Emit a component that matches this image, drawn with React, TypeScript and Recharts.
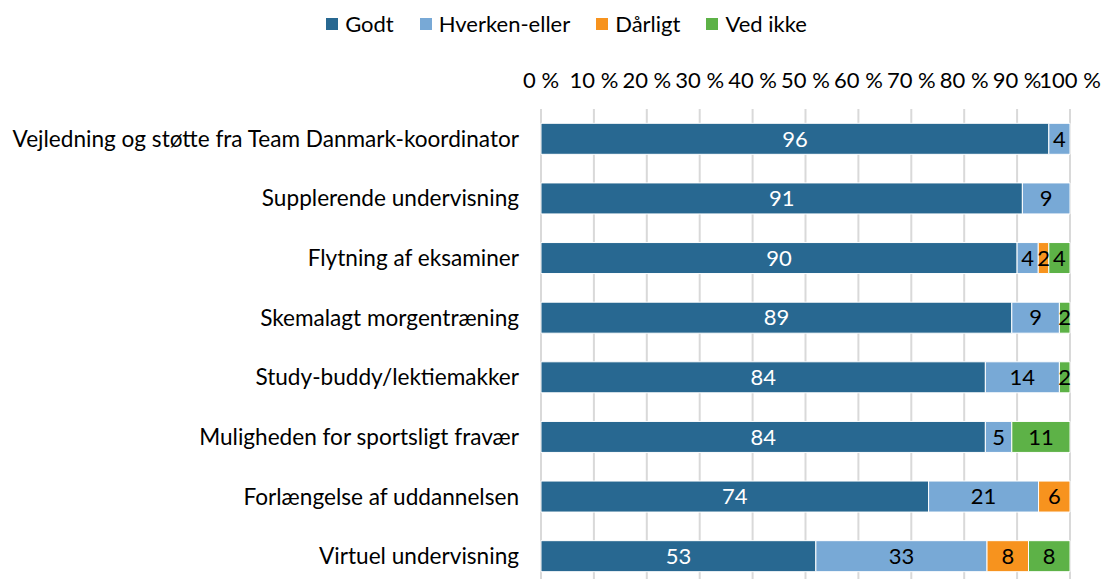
import { BarChart, Bar, XAxis, YAxis, CartesianGrid, Legend, LabelList } from 'recharts';

const categories = [
  'Vejledning og støtte fra Team Danmark-koordinator',
  'Supplerende undervisning',
  'Flytning af eksaminer',
  'Skemalagt morgentræning',
  'Study-buddy/lektiemakker',
  'Muligheden for sportsligt fravær',
  'Forlængelse af uddannelsen',
  'Virtuel undervisning',
];
const godt = [96, 91, 90, 89, 84, 84, 74, 53];
const hverken = [4, 9, 4, 9, 14, 5, 21, 33];
const daarligt = [0, 0, 2, 0, 0, 0, 6, 8];
const vedIkke = [0, 0, 4, 2, 2, 11, 0, 8];
const xTicks = [0, 0.1, 0.2, 0.3, 0.4, 0.5, 0.6, 0.7, 0.8, 0.9, 1];

const series = [
  { key: 'godt', name: 'Godt', color: '#286891', labelColor: '#ffffff' },
  { key: 'hverken', name: 'Hverken-eller', color: '#78a9d6', labelColor: '#000000' },
  { key: 'daarligt', name: 'Dårligt', color: '#f7931e', labelColor: '#000000' },
  { key: 'vedIkke', name: 'Ved ikke', color: '#5db247', labelColor: '#000000' },
];

const data = categories.map((name, i) => ({
  name,
  godt: godt[i],
  hverken: hverken[i],
  daarligt: daarligt[i],
  vedIkke: vedIkke[i],
}));

const font = 'Lato, "Open Sans", sans-serif';
const fs = 22;

const renderLegend = () => (
  <div style={{ display: 'flex', justifyContent: 'center', gap: 26, fontFamily: font, fontSize: fs, color: '#000', height: 22, lineHeight: '22px' }}>
    {series.map((s) => (
      <span key={s.key} style={{ display: 'flex', alignItems: 'center', gap: 7 }}>
        <span style={{ width: 12, height: 12, background: s.color, display: 'inline-block' }} />
        {s.name}
      </span>
    ))}
  </div>
);

export default function App() {
  return (
    <div style={{ position: 'fixed', top: 0, left: 0, width: 1101, height: 579, overflow: 'hidden', background: '#fff' }}>
      <BarChart
        width={1101}
        height={600}
        data={data}
        layout="vertical"
        stackOffset="expand"
        barCategoryGap="24%"
        margin={{ top: 28, right: 31, bottom: 14, left: 0 }}
      >
        <Legend verticalAlign="top" content={renderLegend} wrapperStyle={{ top: 13, left: 16, width: 1101, height: 22 }} />
        <CartesianGrid horizontal={false} stroke="#d9d9d9" strokeWidth={2} />
        <XAxis
          type="number"
          orientation="top"
          domain={[0, 1]}
          ticks={xTicks}
          tickFormatter={(v: number) => `${Math.round(v * 100)} %`}
          axisLine={false}
          tickLine={false}
          height={59}
          tickMargin={15}
          tick={{ fontSize: fs, fill: '#000', fontFamily: font }}
          interval={0}
        />
        <YAxis
          type="category"
          dataKey="name"
          width={541}
          axisLine={false}
          tickLine={false}
          tickMargin={16}
          tick={{ fontSize: 22.6, fill: '#000', fontFamily: font }}
          interval={0}
        />
        {series.map((s) => (
          <Bar key={s.key} dataKey={s.key} name={s.name} stackId="a" fill={s.color} stroke="#ffffff" strokeWidth={1} isAnimationActive={false}>
            <LabelList
              dataKey={s.key}
              position="center"
              formatter={(v: number) => (v ? `${v}` : '')}
              style={{ fill: s.labelColor, fontSize: fs, fontFamily: font }}
            />
          </Bar>
        ))}
      </BarChart>
    </div>
  );
}
